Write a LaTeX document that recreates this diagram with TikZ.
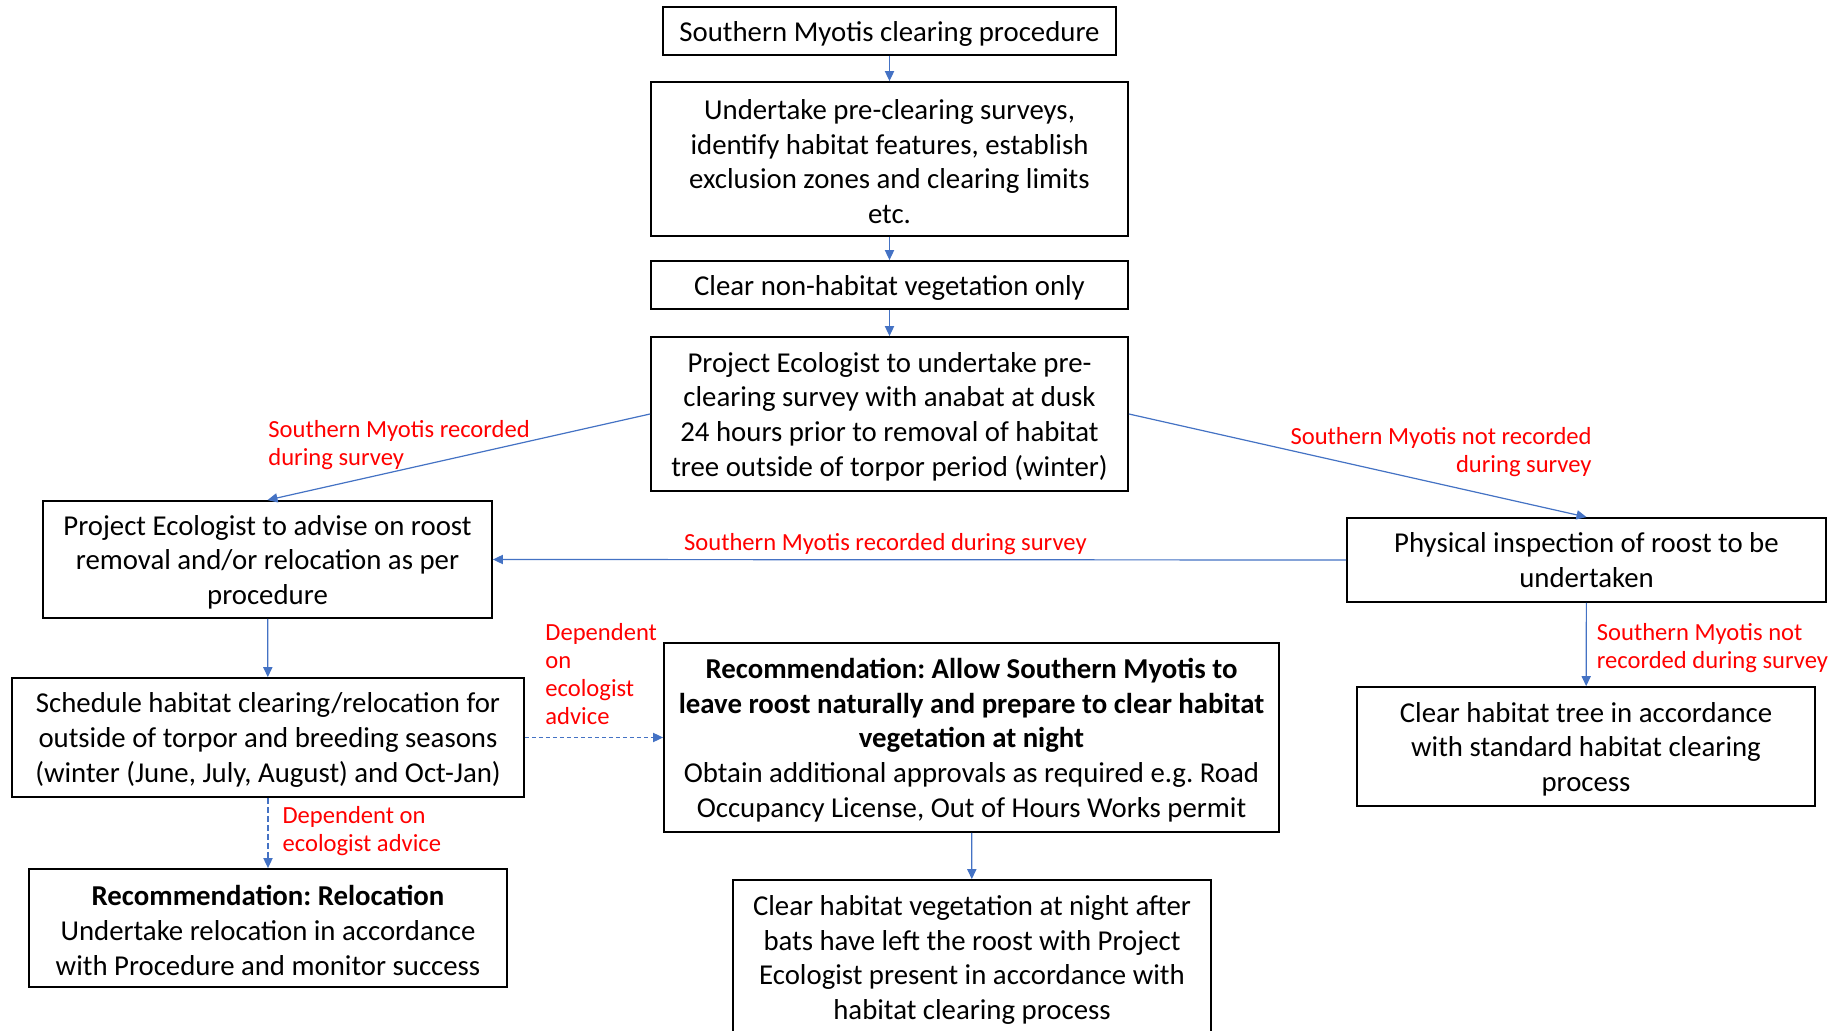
\documentclass[tikz,border=0pt]{standalone}
\usepackage{fontspec}
\setmainfont{Carlito}
\usetikzlibrary{arrows.meta,positioning,calc}
\definecolor{flowblue}{HTML}{4472C4}
\definecolor{notered}{HTML}{FF0000}
\newcommand{\topstrut}{\rule{0pt}{12.6pt}}
\frenchspacing

\begin{document}
\begin{tikzpicture}[
  x=0.5pt,y=-0.5pt,
  >={Triangle[length=5pt,width=4.6pt]},
  box/.style={draw,line width=0.9pt,align=center,inner sep=0pt,
    font=\fontsize{14.4}{17.35}\selectfont},
  flow/.style={->,line width=0.6pt,color=flowblue},
  advice/.style={flow,dash pattern=on 2pt off 1.5pt},
  note/.style={inner sep=0pt,color=notered,font=\fontsize{12.3}{14}\selectfont}
]
\fill[white] (0,0) rectangle (1843,1031);
\useasboundingbox (0,0) rectangle (1843,1031);

% main column
\node[box,minimum width=226.5pt,minimum height=24pt] (title) at (889.5,31)
  {\topstrut Southern Myotis clearing procedure};
\node[box,minimum width=238.5pt,minimum height=77pt] (survey) at (889.5,159)
  {\topstrut Undertake pre-clearing surveys,\\identify habitat features, establish\\
   exclusion zones and clearing limits\\etc.};
\node[box,minimum width=238.5pt,minimum height=24pt] (nonhab) at (889.5,285)
  {\topstrut Clear non-habitat vegetation only};
\node[box,minimum width=238.5pt,minimum height=77pt] (anabat) at (889.5,414)
  {\topstrut Project Ecologist to undertake pre-\\clearing survey with anabat at dusk\\
   24 hours prior to removal of habitat\\tree outside of torpor period (winter)};

% recorded branch
\node[box,minimum width=224.5pt,minimum height=58.5pt] (advise) at (267.5,559.5)
  {\topstrut Project Ecologist to advise on roost\\removal and/or relocation as per\\procedure};
\node[box,minimum width=256pt,minimum height=59.5pt] (schedule) at (268,737.5)
  {\topstrut Schedule habitat clearing/relocation for\\outside of torpor and breeding seasons\\
   (winter (June, July, August) and Oct-Jan)};
\node[box,minimum width=239pt,minimum height=59pt] (relocate) at (268,928)
  {\topstrut\textbf{Recommendation: Relocation}\\Undertake relocation in accordance\\
   with Procedure and monitor success};
\node[box,minimum width=307.5pt,minimum height=94.5pt] (leave) at (971.5,737.5)
  {\topstrut\textbf{Recommendation: Allow Southern Myotis to}\\
   \textbf{leave roost naturally and prepare to clear habitat}\\
   \textbf{vegetation at night}\\
   Obtain additional approvals as required e.g. Road\\
   Occupancy License, Out of Hours Works permit};
\node[box,minimum width=239pt,minimum height=77.5pt] (night) at (972,957.5)
  {\topstrut Clear habitat vegetation at night after\\bats have left the roost with Project\\
   Ecologist present in accordance with\\habitat clearing process};

% not recorded branch
\node[box,minimum width=239.5pt,minimum height=42pt] (inspect) at (1586.5,560)
  {Physical inspection of roost to be\\undertaken};
\node[box,minimum width=229pt,minimum height=59.5pt] (tree) at (1586,746.5)
  {\topstrut Clear habitat tree in accordance\\with standard habitat clearing\\process};

% connectors
\draw[flow] (title) -- (survey);
\draw[flow] (survey) -- (nonhab);
\draw[flow] (nonhab) -- (anabat);
\draw[flow] (anabat.west) -- (advise.north);
\draw[flow] (anabat.east) -- (inspect.north);
\draw[flow] (inspect.west) -- node[note,above=2.2pt,pos=0.54]
  {Southern Myotis recorded during survey} (advise.east);
\draw[flow] (advise) -- (schedule);
\draw[advice] (schedule) -- (leave);
\draw[flow,dash pattern=on 3pt off 1.5pt] (schedule) -- node[note,right=7pt,
  yshift=1.2pt,align=left] {Dependent on\\ecologist advice} (relocate);
\draw[flow] (leave) -- (night);
\draw[flow] (inspect) -- node[note,right=5pt,yshift=-1.7pt,align=left]
  {Southern Myotis not\\recorded during survey} (tree);

% free labels
\node[note,anchor=west,align=left] (recL) at (268,445.5)
  {Southern Myotis recorded\\during survey};
\node[note,anchor=east,align=right] (notR) at (1592,452.5)
  {Southern Myotis not recorded\\during survey};
\node[note,anchor=west,align=left] (depR) at (545,674)
  {Dependent\\on\\ecologist\\advice};
\end{tikzpicture}
\end{document}
